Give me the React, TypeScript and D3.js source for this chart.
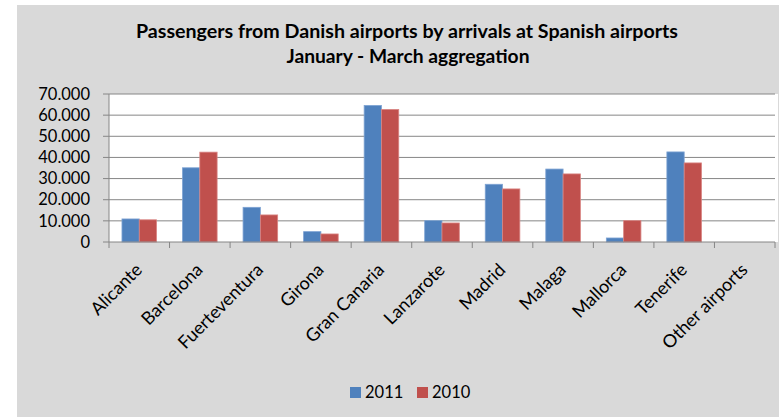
import React from "react";
import * as d3 from "d3";

const AIRPORTS = ["Alicante", "Barcelona", "Fuerteventura", "Girona", "Gran Canaria", "Lanzarote", "Madrid", "Malaga", "Mallorca", "Tenerife", "Other airports"];
const SERIES = ["2011", "2010"];
const VALUES_2011 = [10900, 35100, 16400, 4900, 64600, 10100, 27300, 34500, 1900, 42600, 0];
const VALUES_2010 = [10500, 42500, 12800, 3800, 62700, 9000, 25100, 32200, 10100, 37400, 0];
const Y_TICKS = [0, 10000, 20000, 30000, 40000, 50000, 60000, 70000];
const COLORS = ["#4f81bd", "#c0504d"];
const BORDERS = ["#7ea3d3", "#d98583"];

const W = 780, H = 417;
const M = { left: 109, right: 775, top: 94, bottom: 242 };
const FONT = "Lato, 'Open Sans', sans-serif";

const fmt = (v: number) => v === 0 ? "0" : d3.format(",")(v).replace(/,/g, ".");

export default function App() {
  const x = d3.scaleBand<string>().domain(AIRPORTS).range([M.left, M.right]);
  const x1 = d3.scaleBand<string>().domain(SERIES).range([0, x.bandwidth()]).paddingInner(0).paddingOuter(0.75);
  const y = d3.scaleLinear().domain([0, 70000]).range([M.bottom, M.top]);
  const vals = [VALUES_2011, VALUES_2010];

  return (
    <div style={{ position: "fixed", left: 0, top: 0, width: W, height: H, background: "#fff" }}>
      <svg width={W} height={H} style={{ display: "block" }} fontFamily={FONT}>
        <rect x={17} y={5} width={762} height={412} fill="#d9d9d9" />
        <text x={407} y={38} textAnchor="middle" fontSize={19} fontWeight="bold" fill="#000" textLength={542} lengthAdjust="spacingAndGlyphs">
          Passengers from Danish airports by arrivals at Spanish airports
        </text>
        <text x={408} y={63} textAnchor="middle" fontSize={19} fontWeight="bold" fill="#000" textLength={243} lengthAdjust="spacingAndGlyphs">
          January - March aggregation
        </text>
        <rect x={M.left} y={M.top} width={M.right - M.left + 3} height={M.bottom - M.top} fill="#fff" />
        {Y_TICKS.map(t => (
          <g key={t}>
            <line x1={M.left - 6} x2={t === 0 ? M.left : M.right} y1={y(t)} y2={y(t)} stroke="#868686" strokeWidth={1} />
            <text x={90} y={y(t)} dy="0.35em" textAnchor="end" fontSize={16.5} fill="#000">{fmt(t)}</text>
          </g>
        ))}
        {AIRPORTS.map((a, i) => (
          <g key={a}>
            {SERIES.map((s, j) => {
              const v = vals[j][i];
              if (v <= 0) return null;
              return (
                <rect key={s} x={x(a)! + x1(s)!} y={y(v)} width={x1.bandwidth()} height={y(0) - y(v)}
                  fill={COLORS[j]} stroke={BORDERS[j]} strokeWidth={0.8} />
              );
            })}
          </g>
        ))}
        <line x1={M.left} x2={M.right} y1={y(0)} y2={y(0)} stroke="#868686" strokeWidth={1} />
        <line x1={M.left} x2={M.left} y1={M.top} y2={M.bottom} stroke="#868686" strokeWidth={1} />
        {[...AIRPORTS.map(a => x(a)!), M.right].map((px, i) => (
          <line key={i} x1={px} x2={px} y1={M.bottom} y2={M.bottom + 6} stroke="#868686" strokeWidth={1} />
        ))}
        {AIRPORTS.map(a => {
          const cx = x(a)! + x.bandwidth() / 2 + 4;
          return (
            <text key={a} transform={`translate(${cx},271) rotate(-45)`} textAnchor="end" fontSize={18} fill="#000">{a}</text>
          );
        })}
        {SERIES.map((s, j) => (
          <g key={s} transform={`translate(${350 + j * 67},387)`}>
            <rect width={11} height={11} fill={COLORS[j]} />
            <text x={15} y={5.5} dy="0.35em" fontSize={16.5} fill="#000">{s}</text>
          </g>
        ))}
      </svg>
    </div>
  );
}
